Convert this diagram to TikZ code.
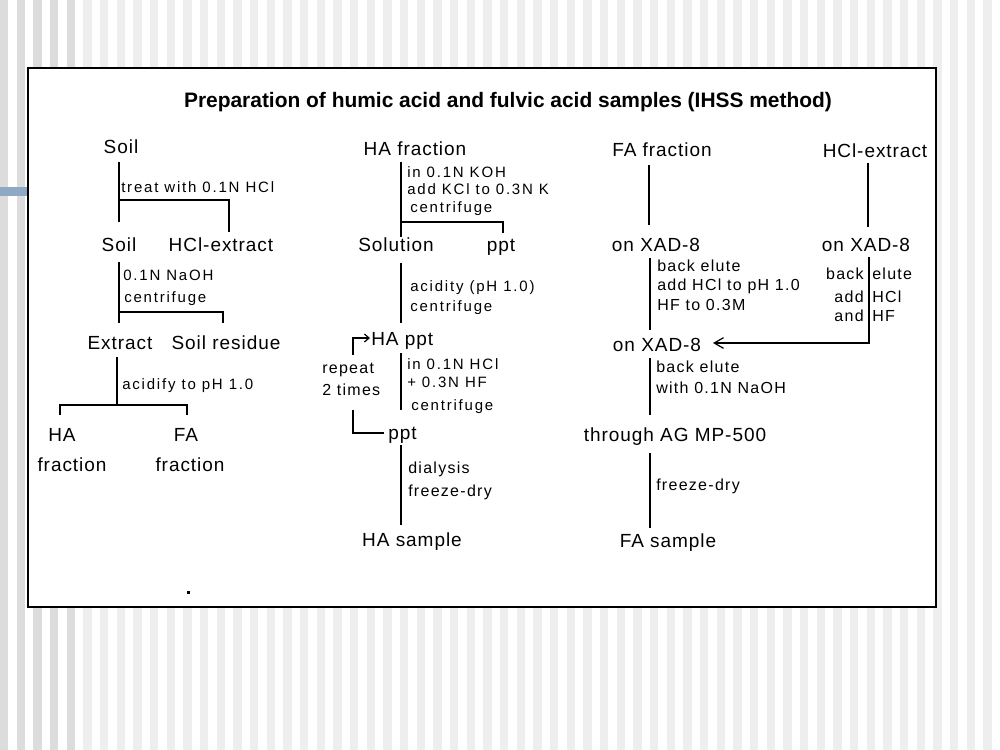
\documentclass[tikz,border=0pt]{standalone}
\usepackage{fontspec}
\setmainfont{Liberation Sans}
\newfontfamily\bigfam[LetterSpace=5]{Liberation Sans}
\newfontfamily\medfam[LetterSpace=8]{Liberation Sans}
\newfontfamily\smallfam[LetterSpace=12]{Liberation Sans}
\newfontfamily\titlefam{Liberation Sans}
\usetikzlibrary{arrows.meta}
\definecolor{stripeA}{HTML}{DCDCDC}
\definecolor{stripeB}{HTML}{EEEEEE}
\definecolor{barblue}{RGB}{143,169,196}
\tikzset{
  big/.style={font={\bigfam\fontsize{14.25}{16}\selectfont}, inner sep=0pt, anchor=base},
  med/.style={font={\medfam\fontsize{12}{14}\selectfont}, inner sep=0pt, anchor=base west},
  small/.style={font={\smallfam\fontsize{11.25}{13}\selectfont}, inner sep=0pt, anchor=base west},
  titletext/.style={font={\titlefam\bfseries\fontsize{15.7}{17}\selectfont}, inner sep=0pt, anchor=base},
  conn/.style={line width=1.5pt},
  thin/.style={line width=0.9pt},
}
\begin{document}
\begin{tikzpicture}[x=0.75pt,y=-0.75pt]
\useasboundingbox (0,0) rectangle (1000,750);
% background stripes
\foreach \i in {0,...,59}{
  \ifnum\i<5 \def\sc{stripeA}\else\def\sc{stripeB}\fi
  \fill[\sc] ({\i*16.667},0) rectangle ({\i*16.667+8.4},750);
}
\fill[barblue] (0,187) rectangle (28,196);
\draw[line width=1.8pt, fill=white] (28,68) rectangle (936,607);
\fill[black] (187,591) rectangle (189.5,594);

\node[titletext] (title) at (508,107) {Preparation of humic acid and fulvic acid samples (IHSS method)};

% ---------- left column ----------
\node[big] (soilA) at (121,153) {Soil};
\node[small] (treat) at (121,192) {treat with 0.1N HCl};
\node[big] (soilB) at (119,251) {Soil};
\node[big] (hclL) at (221,251) {HCl-extract};
\node[small] (naoh) at (123,280) {0.1N NaOH};
\node[small] (cfA) at (124,302) {centrifuge};
\node[big] (extract) at (120,349) {Extract};
\node[big] (resid) at (226,349) {Soil residue};
\node[small] (acid) at (122,389) {acidify to pH 1.0};
\node[big] (haL) at (62,441) {HA};
\node[big] (faL) at (186,441) {FA};
\node[big] (haLf) at (72,471) {fraction};
\node[big] (faLf) at (190,471) {fraction};

\coordinate (sA1) at (119,162); \coordinate (sA2) at (119,222);
\coordinate (sA3) at (119,200); \coordinate (sA4) at (229,200); \coordinate (sA5) at (229,232);
\draw[conn] (sA1) -- (sA2);
\draw[conn] (sA3) -- (sA4) -- (sA5);
\coordinate (sB1) at (119,262); \coordinate (sB2) at (119,323);
\coordinate (sB3) at (119,312); \coordinate (sB4) at (223,312); \coordinate (sB5) at (223,323);
\draw[conn] (sB1) -- (sB2);
\draw[conn] (sB3) -- (sB4) -- (sB5);
\coordinate (e1) at (117,357); \coordinate (e2) at (117,405);
\coordinate (e3) at (60,415); \coordinate (e4) at (60,405); \coordinate (e5) at (187,405); \coordinate (e6) at (187,415);
\draw[conn] (e1) -- (e2);
\draw[conn] (e3) -- (e4) -- (e5) -- (e6);

% ---------- middle column ----------
\node[big] (haf) at (415,155) {HA fraction};
\node[small] (kohA) at (407,177) {in 0.1N KOH};
\node[small] (kohB) at (407,194) {add KCl to 0.3N K};
\node[small] (cfB) at (410,212) {centrifuge};
\node[big] (sol) at (396,251) {Solution};
\node[big] (pptA) at (501,251) {ppt};
\node[small] (acB) at (410,291) {acidity (pH 1.0)};
\node[small] (cfC) at (410,311) {centrifuge};
\node[big, anchor=base west] (happt) at (371,345) {HA ppt};
\node[med] (rep1) at (322,373) {repeat};
\node[med] (rep2) at (322,395) {2 times};
\node[small] (hfA) at (407,369) {in 0.1N HCl};
\node[small] (hfB) at (407,387) {+ 0.3N HF};
\node[small] (cfD) at (411,410) {centrifuge};
\node[big, anchor=base west] (pptB) at (388,439) {ppt};
\node[med] (dia) at (408,473) {dialysis};
\node[med] (fdA) at (408,496) {freeze-dry};
\node[big] (has) at (412,546) {HA sample};

\coordinate (m1) at (401,162); \coordinate (m2) at (401,237);
\coordinate (m3) at (401,222); \coordinate (m4) at (503,222); \coordinate (m5) at (503,233);
\draw[conn] (m1) -- (m2);
\draw[conn] (m3) -- (m4) -- (m5);
\coordinate (m6) at (401,263); \coordinate (m7) at (401,323);
\draw[conn] (m6) -- (m7);
\coordinate (r1) at (353,355); \coordinate (r2) at (353,338); \coordinate (r3) at (370,338);
\draw[thin, -{Straight Barb[length=3.5pt,width=6pt,line width=0.9pt]}] (r1) -- (r2) -- (r3);
\coordinate (m8) at (401,353); \coordinate (m9) at (401,410);
\draw[conn] (m8) -- (m9);
\coordinate (r4) at (353,410); \coordinate (r5) at (353,433); \coordinate (r6) at (384,433);
\draw[thin] (r4) -- (r5) -- (r6);
\coordinate (m10) at (401,445); \coordinate (m11) at (401,525);
\draw[conn] (m10) -- (m11);

% ---------- right column ----------
\node[big] (faf) at (662,156) {FA fraction};
\node[big] (hclR) at (875,157) {HCl-extract};
\node[big] (xadL) at (656,251) {on XAD-8};
\node[big] (xadR) at (866,251) {on XAD-8};
\node[med] (beA) at (657,271) {back elute};
\node[med] (beB) at (657,290) {add HCl to pH 1.0};
\node[med] (beC) at (657,310) {HF to 0.3M};
\node[med, anchor=base east] (rbA) at (864,279) {back};
\node[med] (rbB) at (872,279) {elute};
\node[med, anchor=base east] (rbC) at (864,302) {add};
\node[med] (rbD) at (872,302) {HCl};
\node[med, anchor=base east] (rbE) at (864,321) {and};
\node[med] (rbF) at (872,321) {HF};
\node[big] (xadM) at (657,351) {on XAD-8};
\node[med] (beD) at (656,372) {back elute};
\node[med] (beE) at (656,393) {with 0.1N NaOH};
\node[big] (ag) at (675,441) {through AG MP-500};
\node[med] (fdB) at (656,490) {freeze-dry};
\node[big] (fas) at (668,547) {FA sample};

\coordinate (f1) at (649,165); \coordinate (f2) at (649,225);
\draw[conn] (f1) -- (f2);
\coordinate (h1) at (868,163); \coordinate (h2) at (868,227);
\draw[conn] (h1) -- (h2);
\coordinate (f3) at (650,258); \coordinate (f4) at (650,330);
\draw[conn] (f3) -- (f4);
\coordinate (h3) at (869,257); \coordinate (h4) at (869,343); \coordinate (h5) at (713,343);
\draw[conn, -{Straight Barb[length=7pt,width=8pt,line width=0.9pt]}] (h3) -- (h4) -- (h5);
\coordinate (f5) at (650,358); \coordinate (f6) at (650,415);
\draw[conn] (f5) -- (f6);
\coordinate (f7) at (650,453); \coordinate (f8) at (650,528);
\draw[conn] (f7) -- (f8);
\end{tikzpicture}
\end{document}
